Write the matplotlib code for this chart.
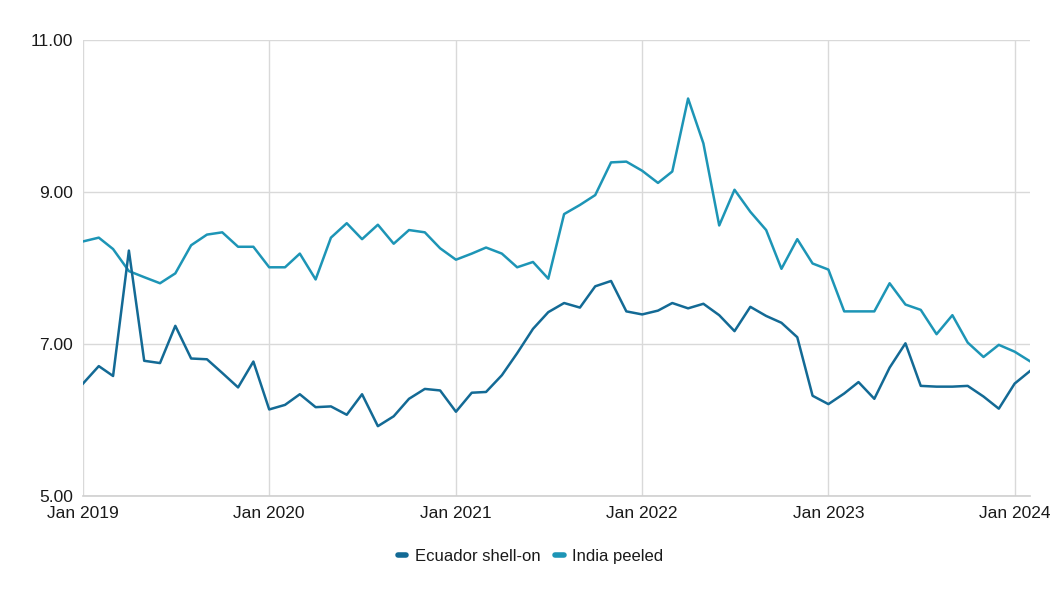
import numpy as np
import pandas as pd
import matplotlib
matplotlib.use("Agg")
import matplotlib.pyplot as plt
from matplotlib.lines import Line2D

plt.rcParams.update({"font.family": ["Liberation Sans", "DejaVu Sans"], "font.size": 12})

DARK, LIGHT, GRID = "#136a95", "#1d95b6", "#d9d9d9"

months = pd.date_range("2019-01-01", "2024-02-01", freq="MS")
ecuador = [6.48, 6.71, 6.58, 8.23, 6.78, 6.75, 7.24, 6.81, 6.80, 6.62, 6.43, 6.77,
           6.14, 6.20, 6.34, 6.17, 6.18, 6.07, 6.34, 5.92, 6.05, 6.28, 6.41, 6.39,
           6.11, 6.36, 6.37, 6.59, 6.88, 7.20, 7.42, 7.54, 7.48, 7.76, 7.83, 7.43,
           7.39, 7.44, 7.54, 7.47, 7.53, 7.38, 7.17, 7.49, 7.37, 7.28, 7.09, 6.32,
           6.21, 6.35, 6.50, 6.28, 6.69, 7.01, 6.45, 6.44, 6.44, 6.45, 6.31, 6.15,
           6.48, 6.65]
india = [8.35, 8.40, 8.25, 7.96, 7.88, 7.80, 7.93, 8.30, 8.44, 8.47, 8.28, 8.28,
         8.01, 8.01, 8.19, 7.85, 8.40, 8.59, 8.38, 8.57, 8.32, 8.50, 8.47, 8.26,
         8.11, 8.19, 8.27, 8.19, 8.01, 8.08, 7.86, 8.71, 8.83, 8.96, 9.39, 9.40,
         9.28, 9.12, 9.27, 10.23, 9.64, 8.56, 9.03, 8.74, 8.50, 7.99, 8.38, 8.06,
         7.98, 7.43, 7.43, 7.43, 7.80, 7.52, 7.45, 7.13, 7.38, 7.02, 6.83, 6.99,
         6.90, 6.77]
yticks = [5, 7, 9, 11]
xticks = pd.date_range("2019-01-01", "2024-01-01", freq="YS")
xlabels = [d.strftime("Jan %Y") for d in xticks]

fig = plt.figure(figsize=(10.61, 5.97), dpi=100)
ax = fig.add_axes([0.0782, 0.169, 0.893, 0.764])
ax.plot(months, india, color=LIGHT, lw=1.8, zorder=3)
ax.plot(months, ecuador, color=DARK, lw=1.8, zorder=3)

ax.set_ylim(5, 11)
ax.set_xlim(months[0], months[-1])
ax.set_yticks(yticks)
ax.set_yticklabels([f"{v:.2f}" for v in yticks])
ax.set_xticks(xticks)
ax.set_xticklabels(xlabels)
ax.grid(True, color=GRID, lw=1)
ax.set_axisbelow(True)
for s in ax.spines.values():
    s.set_visible(False)
# bottom baseline a touch darker, like the source
ax.axhline(5, color="#cfcfcf", lw=1.2, zorder=1, clip_on=False)
ax.tick_params(length=0, labelsize=12.5, colors="#1a1a1a")
ax.tick_params(axis="x", pad=7)
ax.tick_params(axis="y", pad=7)

handles = [Line2D([], [], color=DARK, lw=4, solid_capstyle="round"),
           Line2D([], [], color=LIGHT, lw=4, solid_capstyle="round")]
fig.legend(handles, ["Ecuador shell-on", "India peeled"], loc="center",
           bbox_to_anchor=(0.5, 0.068), ncol=2, frameon=False, fontsize=12,
           labelcolor="#1a1a1a", handlelength=0.5, handletextpad=0.5,
           columnspacing=0.9)

fig.savefig("out.png", dpi=100)
